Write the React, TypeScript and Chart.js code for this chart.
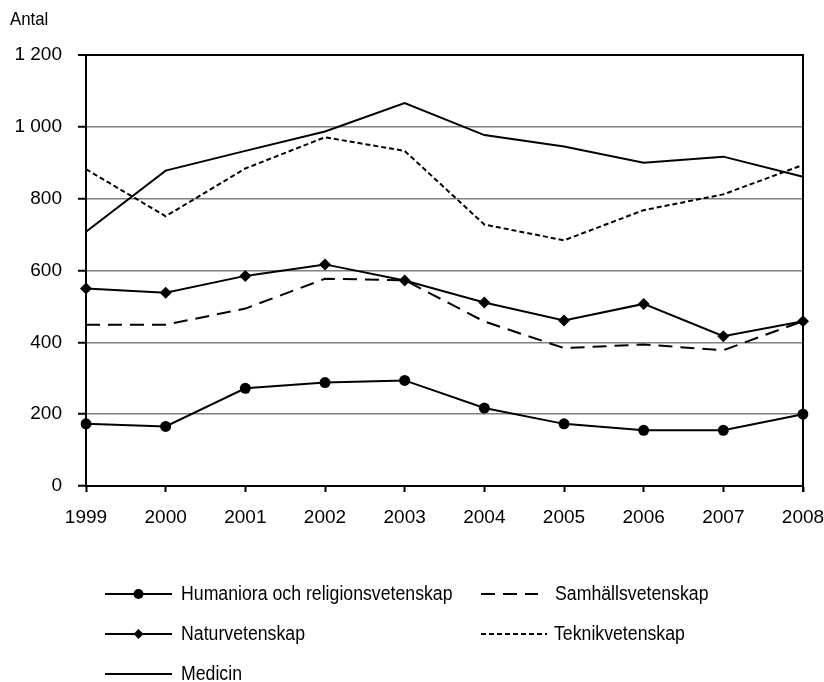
import React, { useEffect, useRef } from 'react';
import { Chart, registerables } from 'chart.js';

Chart.register(...registerables);

const FONT = '"Liberation Sans Narrow", "Arial Narrow", "Liberation Sans", Arial, sans-serif';

const years = ['1999', '2000', '2001', '2002', '2003', '2004', '2005', '2006', '2007', '2008'];
const humaniora = [173, 166, 272, 288, 294, 217, 173, 155, 155, 200];
const samhalls = [449, 449, 494, 577, 573, 458, 384, 394, 378, 459];
const natur = [550, 538, 585, 617, 572, 511, 461, 507, 417, 459];
const teknik = [882, 751, 884, 971, 933, 728, 684, 768, 812, 894];
const medicin = [708, 878, 933, 987, 1066, 977, 945, 900, 917, 861];

const yTicks = [0, 200, 400, 600, 800, 1000, 1200];
const yTitle = 'Antal';

const seriesNames = [
  'Humaniora och religionsvetenskap',
  'Samhällsvetenskap',
  'Naturvetenskap',
  'Teknikvetenskap',
  'Medicin',
];

function fmt(v: number): string {
  if (v >= 1000) {
    return `${Math.floor(v / 1000)} ${String(v % 1000).padStart(3, '0')}`;
  }
  return String(v);
}

// legend layout: [datasetIndex, symbolX1, symbolX2, textX, y]
const legendLayout: Array<[number, number, number, number, number]> = [
  [0, 105, 172, 181, 594],
  [1, 481, 538, 555, 594],
  [2, 105, 172, 181, 634],
  [3, 481, 547, 554, 634],
  [4, 105, 172, 181, 674],
];
const TEXT_SQUEEZE = 0.885;

const decorPlugin = {
  id: 'decor',
  beforeDatasetsDraw(chart: any) {
    const { ctx, chartArea } = chart;
    ctx.save();
    ctx.strokeStyle = '#000';
    ctx.lineWidth = 2;
    ctx.beginPath();
    ctx.moveTo(chartArea.right, chartArea.top - 1);
    ctx.lineTo(chartArea.right, chartArea.bottom + 6);
    ctx.stroke();
    ctx.restore();
  },
  afterDraw(chart: any) {
    const { ctx } = chart;
    ctx.save();
    ctx.fillStyle = '#000';
    ctx.font = `19px ${FONT}`;
    ctx.textBaseline = 'middle';
    ctx.textAlign = 'left';
    const tw = ctx.measureText(yTitle).width;
    ctx.fillText(yTitle, 10, 20, tw * TEXT_SQUEEZE);
    ctx.font = `20px ${FONT}`;
    legendLayout.forEach(([i, x1, x2, tx, y]) => {
      const ds = chart.data.datasets[i];
      ctx.save();
      ctx.strokeStyle = '#000';
      ctx.lineWidth = ds.borderWidth;
      ctx.setLineDash(ds.borderDash || []);
      ctx.beginPath();
      ctx.moveTo(x1, y);
      ctx.lineTo(x2, y);
      ctx.stroke();
      ctx.setLineDash([]);
      const mx = (x1 + x2) / 2;
      if (ds.pointStyle === 'circle' && ds.pointRadius > 0) {
        ctx.fillStyle = '#000';
        ctx.beginPath();
        ctx.arc(mx, y, ds.pointRadius - 0.5, 0, Math.PI * 2);
        ctx.fill();
      } else if (ds.pointStyle === 'rectRot' && ds.pointRadius > 0) {
        const r = ds.pointRadius - 1;
        ctx.fillStyle = '#000';
        ctx.beginPath();
        ctx.moveTo(mx, y - r);
        ctx.lineTo(mx + r, y);
        ctx.lineTo(mx, y + r);
        ctx.lineTo(mx - r, y);
        ctx.closePath();
        ctx.fill();
      }
      ctx.restore();
      ctx.fillStyle = '#000';
      const w = ctx.measureText(ds.label).width;
      ctx.fillText(ds.label, tx, y, w * TEXT_SQUEEZE);
    });
    ctx.restore();
  },
};

export default function App() {
  const ref = useRef<HTMLCanvasElement>(null);
  useEffect(() => {
    document.body.style.margin = '0';
    const base = {
      borderColor: '#000',
      backgroundColor: '#000',
      pointBackgroundColor: '#000',
      pointBorderColor: '#000',
      fill: false,
      tension: 0,
    };
    const chart = new Chart(ref.current as HTMLCanvasElement, {
      type: 'line',
      data: {
        labels: years,
        datasets: [
          { ...base, label: seriesNames[0], data: humaniora, borderWidth: 2, pointStyle: 'circle', pointRadius: 5.5, pointBorderWidth: 0 },
          { ...base, label: seriesNames[1], data: samhalls, borderWidth: 2, borderDash: [14, 8], pointStyle: 'circle', pointRadius: 0 },
          { ...base, label: seriesNames[2], data: natur, borderWidth: 2, pointStyle: 'rectRot', pointRadius: 6, pointBorderWidth: 0 },
          { ...base, label: seriesNames[3], data: teknik, borderWidth: 2, borderDash: [5, 3], pointStyle: 'circle', pointRadius: 0 },
          { ...base, label: seriesNames[4], data: medicin, borderWidth: 2, pointStyle: 'circle', pointRadius: 0 },
        ] as any,
      },
      options: {
        responsive: false,
        animation: false,
        events: [],
        layout: { padding: { left: 0, right: 21, top: 55, bottom: 146 } },
        plugins: {
          legend: { display: false },
          tooltip: { enabled: false },
          title: { display: false },
        },
        scales: {
          x: {
            type: 'category',
            offset: false,
            grid: {
              drawOnChartArea: false,
              drawTicks: true,
              tickLength: 6,
              tickColor: '#000',
              tickWidth: 2,
            },
            border: { color: '#000', width: 2 },
            ticks: {
              color: '#000',
              font: { family: FONT, size: 19 },
              padding: 14,
              maxRotation: 0,
              autoSkip: false,
            },
            afterFit(scale: any) {
              scale.height = 50;
              scale.paddingLeft = 0;
              scale.paddingRight = 0;
            },
          },
          y: {
            min: 0,
            max: 1200,
            afterBuildTicks(scale: any) {
              scale.ticks = yTicks.map((v) => ({ value: v }));
            },
            grid: {
              color: (c: any) => (c.tick && c.tick.value === 1200 ? '#000' : '#808080'),
              lineWidth: (c: any) => (c.tick && c.tick.value === 1200 ? 2 : 1.5),
              drawTicks: true,
              tickLength: 8,
              tickColor: '#000',
              tickWidth: 2,
            },
            border: { color: '#000', width: 2 },
            ticks: {
              color: '#000',
              font: { family: FONT, size: 19 },
              padding: 16,
              callback: (v: any) => fmt(Number(v)),
            },
            afterFit(scale: any) {
              scale.width = 86;
              scale.paddingTop = 0;
              scale.paddingBottom = 0;
            },
          },
        },
      } as any,
      plugins: [decorPlugin],
    });
    return () => chart.destroy();
  }, []);
  return <canvas ref={ref} width={824} height={682} style={{ display: 'block', width: 824, height: 682 }} />;
}
